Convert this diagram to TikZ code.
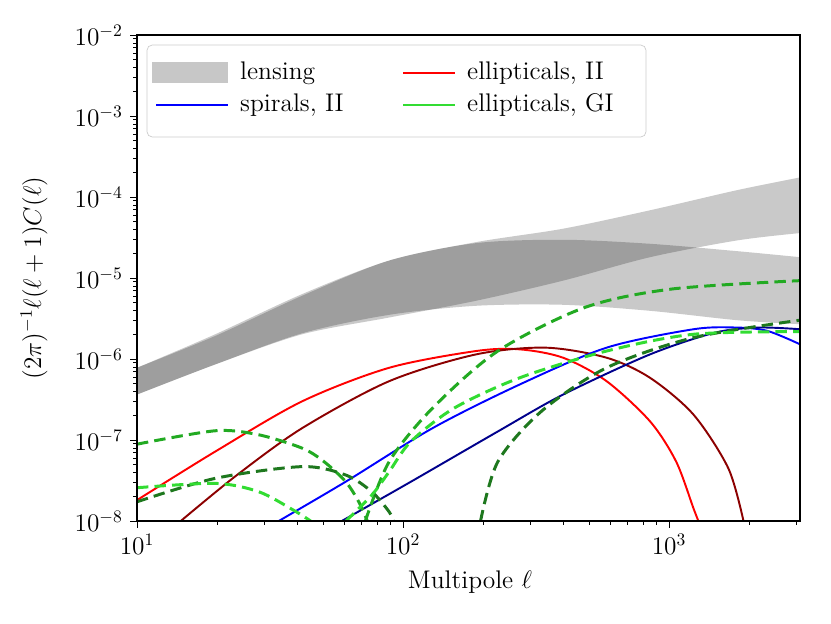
\documentclass[tikz,border=0pt]{standalone}
\usepackage{amsmath}
\begin{document}
\begin{tikzpicture}[x=0.02cm,y=-0.02cm,
  lbl/.style={font=\fontsize{14.5}{16}\selectfont},
  band/.style={fill=black,fill opacity=0.21,draw=none},
  crv/.style={line width=1.1pt},
  dsh/.style={line width=1.7pt,dash pattern=on 6.5pt off 3.5pt}]
\definecolor{mgreen}{RGB}{34,170,34}
\definecolor{dgreen}{RGB}{30,120,30}
\definecolor{lgreen}{RGB}{50,220,50}
\definecolor{dred}{RGB}{140,0,0}
\definecolor{dblue}{RGB}{0,0,140}
\useasboundingbox (0,0) rectangle (831,623);
% curves, in crop units
\begin{scope}
\clip (137,35) rectangle (800,521);
\begin{scope}[shift={(128.3,160)},xscale=0.4348,yscale=0.3351]
\fill[band] plot[smooth] coordinates {(20,620)(200,520)(400,400)(600,300)(800,245)(1000,205)(1200,150)(1400,90)(1545,52)}
  -- plot[smooth] coordinates {(1545,218)(1400,240)(1200,290)(1000,360)(800,420)(600,470)(400,520)(200,610)(20,700)} -- cycle;
\fill[band] plot[smooth] coordinates {(20,620)(200,525)(400,405)(600,300)(800,248)(1000,238)(1200,250)(1400,272)(1545,290)}
  -- plot[smooth] coordinates {(1545,490)(1400,478)(1200,450)(1000,432)(800,435)(600,462)(400,517)(200,610)(20,700)} -- cycle;
\draw[crv,red] plot[smooth] coordinates {(20,1015)(200,870)(400,720)(600,620)(800,570)(900,565)(1000,590)(1100,660)(1200,780)(1260,900)(1300,1040)(1315,1090)};
\draw[crv,dred] plot[smooth] coordinates {(120,1078)(250,940)(400,800)(600,660)(800,580)(960,560)(1100,590)(1200,650)(1300,760)(1380,920)(1415,1078)};
\draw[crv,blue] plot[smooth] coordinates {(345,1078)(500,960)(700,800)(900,670)(1100,560)(1300,505)(1400,500)(1470,510)(1545,550)};
\draw[crv,dblue] plot[smooth] coordinates {(490,1078)(650,960)(850,810)(1000,700)(1200,580)(1350,515)(1450,500)(1545,505)};
\draw[dsh,mgreen] plot[smooth] coordinates {(20,848)(200,808)(300,820)(400,860)(450,900)(500,960)(530,1020)(550,1078)};
\draw[dsh,mgreen] plot[smooth] coordinates {(545,1078)(600,900)(700,740)(850,570)(1050,440)(1250,385)(1545,360)};
\draw[dsh,dgreen] plot[smooth] coordinates {(20,1020)(200,950)(400,915)(500,940)(560,990)(600,1050)(610,1078)};
\draw[dsh,dgreen] plot[smooth] coordinates {(810,1078)(850,900)(950,750)(1100,620)(1300,530)(1545,478)};
\draw[dgreen,line width=1.7pt] (690,1080) arc[start angle=180,end angle=0,x radius=35,y radius=25];
\draw[dsh,lgreen] plot[smooth] coordinates {(20,978)(200,965)(300,990)(380,1045)(420,1078)};
\draw[dsh,lgreen] plot[smooth] coordinates {(500,1078)(560,1000)(600,930)(650,840)(750,740)(900,650)(1100,570)(1300,520)(1545,512)};
\end{scope}
\end{scope}
% axes
\draw[line width=0.8pt] (137,35) rectangle (800,521);
\foreach \d/\e in {0/1,1/2,2/3} {
  \draw (137+266*\d,521) -- ++(0,7);
  \node[lbl,below] (xt\e) at (137+266*\d,528) {$10^{\e}$};
}
\foreach \d in {0,1}
  \foreach \m in {2,...,9}
    \draw ({137+266*(\d+log10(\m))},521) -- ++(0,4);
\foreach \m in {2,3} \draw ({137+266*(2+log10(\m))},521) -- ++(0,4);
\foreach \d/\e in {0/-8,1/-7,2/-6,3/-5,4/-4,5/-3,6/-2} {
  \draw (137,521-81*\d) -- ++(-7,0);
  \node[lbl,left] (yt\d) at (129,521-81*\d) {$10^{\e}$};
}
\foreach \d in {0,...,5}
  \foreach \m in {2,...,9}
    \draw (137,{521-81*(\d+log10(\m))}) -- ++(-4,0);
\node[lbl] (xlab) at (470,582) {Multipole $\ell$};
\node[lbl,rotate=90] (ylab) at (34,278) {$(2\pi)^{-1}\ell(\ell+1)C(\ell)$};
% legend
\draw[rounded corners=3pt,draw=black!20,fill=white,fill opacity=0.8] (147,45) rectangle (646,137);
\fill[black!22] (152,62) rectangle (228,83);
\node[lbl,right] (lg1) at (234,73) {lensing};
\draw[crv,blue] (156,105) -- (228,105);
\node[lbl,right] (lg2) at (234,105) {spirals, II};
\draw[crv,red] (403,73) -- (455,73);
\node[lbl,right] (lg3) at (461,73) {ellipticals, II};
\draw[crv,lgreen] (403,105) -- (455,105);
\node[lbl,right] (lg4) at (461,105) {ellipticals, GI};
\end{tikzpicture}
\end{document}
